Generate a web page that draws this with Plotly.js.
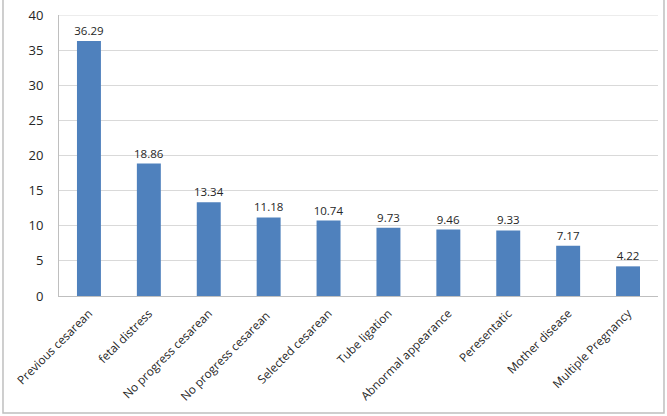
<!DOCTYPE html>
<html><head><meta charset="utf-8">
<script src="https://cdn.plot.ly/plotly-3.0.1.min.js"></script>
<style>html,body{margin:0;padding:0;background:#fff}#chart{width:667px;height:416px}</style>
</head><body><div id="chart"></div>
<script>
const categories = ["Previous cesarean","fetal distress","No progress cesarean","No progress cesarean ","Selected cesarean","Tube ligation","Abnormal appearance","Peresentatic","Mother disease","Multiple Pregnancy"];
const values = [36.29,18.86,13.34,11.18,10.74,9.73,9.46,9.33,7.17,4.22];
const yTicks = [0,5,10,15,20,25,30,35,40];

const trace = {
  type: 'bar', x: categories, y: values,
  marker: {color: '#4f81bd'},
  text: values.map(v => v.toFixed(2)), textposition: 'outside', cliponaxis: false, constraintext: 'none',
  textfont: {family: 'Open Sans, sans-serif', size: 11.5, color: '#262626'},
  hoverinfo: 'none'
};
const layout = {
  width: 667, height: 416,
  margin: {l: 59, r: 9, t: 15, b: 120},
  paper_bgcolor: '#fff', plot_bgcolor: '#fff',
  bargap: 0.6, showlegend: false,
  font: {family: 'Open Sans, sans-serif', size: 11, color: '#262626'},
  xaxis: {tickangle: -45, showline: true, linecolor: '#bfbfbf', ticks: 'outside', ticklen: 5, tickcolor: 'rgba(0,0,0,0)', tickfont: {size: 11.8}, automargin: false},
  yaxis: {range: [0, 40], tickvals: yTicks, showgrid: true, gridcolor: '#d9d9d9', showline: true, linecolor: '#bfbfbf', ticks: '', ticklabelstandoff: 12, zeroline: false, tickfont: {size: 13}, automargin: false},
  shapes: [
    {type: 'line', xref: 'paper', yref: 'y', x0: 0, x1: 1, y0: 40, y1: 40, line: {color: '#d9d9d9', width: 1}},
    {type: 'rect', xref: 'paper', yref: 'paper', x0: -0.0935, x1: 1.01, y0: -0.4164, y1: 1.06, line: {color: '#bfbfbf', width: 1.5}}
  ]
};
Plotly.newPlot('chart', [trace], layout, {staticPlot: true, displayModeBar: false});
</script></body></html>
